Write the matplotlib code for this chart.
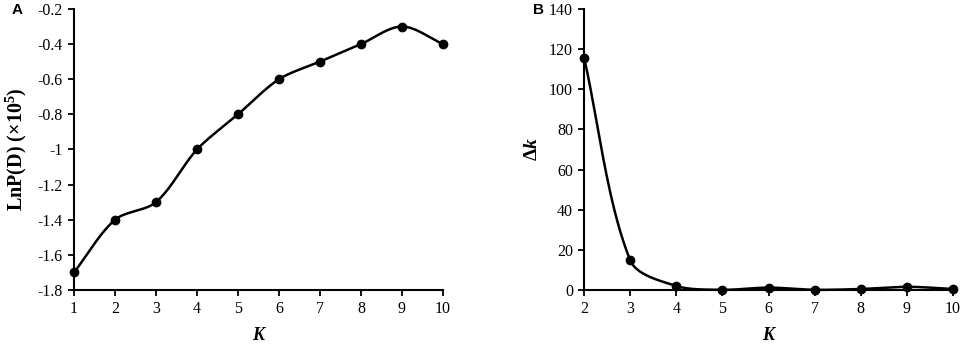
import numpy as np
import matplotlib.pyplot as plt

# data
k_a = [1, 2, 3, 4, 5, 6, 7, 8, 9, 10]
lnp = [-1.7, -1.4, -1.3, -1.0, -0.8, -0.6, -0.5, -0.4, -0.3, -0.4]
k_b = [2, 3, 4, 5, 6, 7, 8, 9, 10]
delta_k = [115.5, 14.7, 2.0, 0.1, 1.2, 0.1, 0.5, 1.6, 0.5]


def smooth_line(ax, x, y, tension=0.3, n=40):
    # Excel-style smoothed line, worked out in screen space
    pts = ax.transData.transform(np.column_stack([x, y]))
    m = len(pts)
    tang = np.zeros_like(pts)
    for i in range(m):
        a = pts[max(i - 1, 0)]
        b = pts[min(i + 1, m - 1)]
        d = b - a
        tang[i] = d / np.hypot(*d)
    t = np.linspace(0, 1, n)[:, None]
    out = []
    for i in range(m - 1):
        p0, p3 = pts[i], pts[i + 1]
        seg = np.hypot(*(p3 - p0))
        c1 = p0 + tang[i] * seg * tension
        c2 = p3 - tang[i + 1] * seg * tension
        b = (1 - t) ** 3 * p0 + 3 * (1 - t) ** 2 * t * c1 + 3 * (1 - t) * t ** 2 * c2 + t ** 3 * p3
        out.append(b)
    out = np.vstack(out)
    data = ax.transData.inverted().transform(out)
    ax.plot(data[:, 0], data[:, 1], color='black', lw=1.8, clip_on=False)
    ax.plot(x, y, 'o', color='black', ms=6, clip_on=False, zorder=3)


plt.rcParams['font.family'] = ['Liberation Serif', 'DejaVu Serif']
plt.rcParams['mathtext.fontset'] = 'custom'
plt.rcParams['mathtext.rm'] = 'Liberation Serif'
plt.rcParams['mathtext.it'] = 'Liberation Serif:italic:bold'
plt.rcParams['mathtext.bf'] = 'Liberation Serif:bold'

fig = plt.figure(figsize=(9.64, 3.44), dpi=100)
ax1 = fig.add_axes([0.0768, 0.157, 0.3827, 0.817])
ax2 = fig.add_axes([0.606, 0.157, 0.3826, 0.817])

for ax in (ax1, ax2):
    for s in ['top', 'right']:
        ax.spines[s].set_visible(False)
    for s in ['left', 'bottom']:
        ax.spines[s].set_linewidth(1.5)
    ax.tick_params(direction='out', length=4, width=1.3, labelsize=11.5, pad=4)

ax1.set_xlim(1, 10)
ax1.set_ylim(-1.8, -0.2)
ax1.set_xticks(k_a)
ax1.set_yticks(np.arange(-1.8, -0.19, 0.2))
ax1.set_yticklabels(['-1.8', '-1.6', '-1.4', '-1.2', '-1', '-0.8', '-0.6', '-0.4', '-0.2'])
smooth_line(ax1, k_a, lnp)
ax1.set_xlabel('K', fontsize=13, fontweight='bold', style='italic', labelpad=7)
ax1.set_ylabel('LnP(D) (\u00d7' + r'$\mathbf{10^{5}}$' + ')', fontsize=14.5,
               fontweight='bold', labelpad=6)

ax2.set_xlim(2, 10)
ax2.set_ylim(0, 140)
ax2.set_xticks(k_b)
ax2.set_yticks(range(0, 141, 20))
smooth_line(ax2, k_b, delta_k)
ax2.set_xlabel('K', fontsize=13, fontweight='bold', style='italic', labelpad=7)
ax2.set_ylabel(r'$\mathbf{\Delta}$$k$', fontsize=14, labelpad=6)

fig.text(12 / 964, 1 - 10 / 344, 'A', fontsize=11, fontweight='bold',
         family='Liberation Sans', va='center')
fig.text(533 / 964, 1 - 10 / 344, 'B', fontsize=11, fontweight='bold',
         family='Liberation Sans', va='center')

fig.savefig('out.png', dpi=100)
